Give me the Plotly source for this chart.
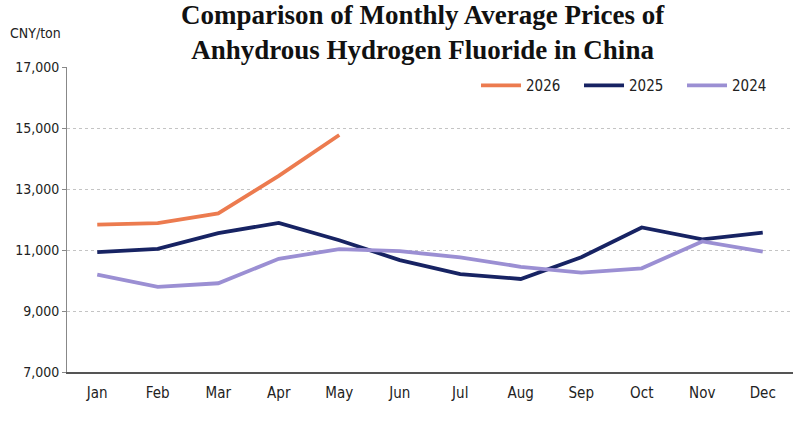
import plotly.graph_objects as go

months = ["Jan", "Feb", "Mar", "Apr", "May", "Jun", "Jul", "Aug", "Sep", "Oct", "Nov", "Dec"]
prices_2026 = [11830, 11880, 12200, 13430, 14770]
prices_2025 = [10930, 11040, 11550, 11890, 11320, 10670, 10210, 10050, 10760, 11740, 11350, 11570]
prices_2024 = [10190, 9790, 9910, 10710, 11030, 10960, 10760, 10450, 10260, 10400, 11280, 10950]
y_ticks = [7000, 9000, 11000, 13000, 15000, 17000]
y_tick_labels = ["7,000", "9,000", "11,000", "13,000", "15,000", "17,000"]

FONT = "DejaVu Sans Condensed, Liberation Sans Narrow, Roboto, sans-serif"

fig = go.Figure()
fig.add_trace(go.Scatter(x=months[:len(prices_2026)], y=prices_2026, mode="lines", name="2026",
                         line=dict(color="#EC7B4F", width=3.8)))
fig.add_trace(go.Scatter(x=months, y=prices_2025, mode="lines", name="2025",
                         line=dict(color="#172363", width=3.8)))
fig.add_trace(go.Scatter(x=months, y=prices_2024, mode="lines", name="2024",
                         line=dict(color="#9B8FD3", width=3.8)))

fig.update_layout(
    width=800, height=424,
    margin=dict(l=67, r=7, t=67, b=52, autoexpand=False),
    paper_bgcolor="white", plot_bgcolor="white",
    font=dict(family=FONT, size=14, color="#222"),
    showlegend=True,
    legend=dict(orientation="h", x=0.989, xanchor="right", y=0.993, yanchor="top",
                font=dict(size=15, family=FONT, color="#222"),
                bgcolor="rgba(0,0,0,0)", itemwidth=40, tracegroupgap=0,
                entrywidthmode="pixels", entrywidth=48),
    xaxis=dict(type="category", categoryorder="array", categoryarray=months,
               range=[-0.5, 11.5], showgrid=False, showline=True, linecolor="#555", linewidth=1.5,
               ticks="", tickfont=dict(size=15, family=FONT, color="#222"), ticklabelstandoff=6),
    yaxis=dict(range=[7000, 17000], tickvals=y_ticks, ticktext=y_tick_labels,
               showgrid=True, gridcolor="#C4C4C4", griddash="dot", gridwidth=1,
               showline=True, linecolor="#888", linewidth=1, zeroline=False,
               ticks="outside", ticklen=4, tickcolor="#888",
               tickfont=dict(size=14, family=FONT, color="#222")),
    annotations=[
        dict(text="<b>Comparison of Monthly Average Prices of<br>Anhydrous Hydrogen Fluoride in China</b>",
             x=423, xref="paper", y=1, yref="paper", showarrow=False,
             font=dict(family="Liberation Serif, Times New Roman, serif", size=27, color="#111")),
        dict(text="CNY/ton", xref="paper", yref="paper", x=0, y=1, showarrow=False,
             font=dict(size=14, family=FONT, color="#222")),
    ],
)
pw = 800 - 67 - 7
ph = 424 - 67 - 52
fig.layout.annotations[0].update(x=(423 - 67) / pw, xanchor="center", y=(424 - 52 - 32) / ph, yanchor="middle")
fig.layout.annotations[1].update(x=(8 - 67) / pw, xanchor="left", y=(424 - 52 - 33) / ph, yanchor="middle")

fig.write_html("out.html")
